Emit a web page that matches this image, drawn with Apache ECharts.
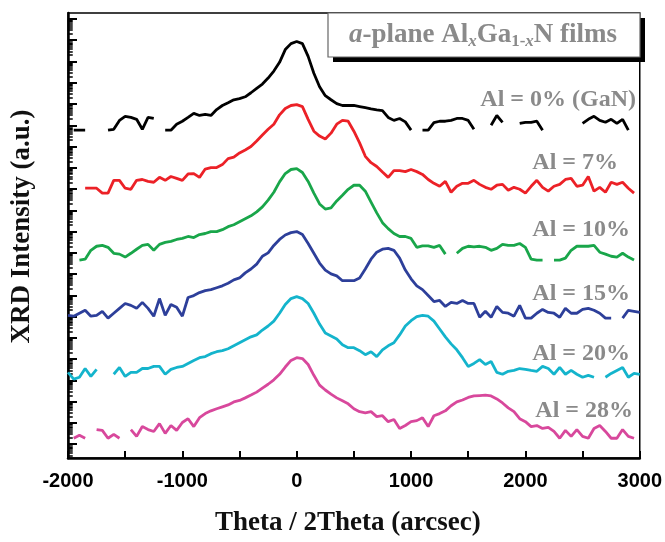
<!DOCTYPE html>
<html>
<head>
<meta charset="utf-8">
<script src="https://cdn.jsdelivr.net/npm/echarts@6/dist/echarts.min.js"></script>
<style>
  html, body { margin: 0; padding: 0; background: #fff; }
  #chart { width: 665px; height: 542px; }
</style>
</head>
<body>
<div id="chart"></div>
<script>
// theta/2theta scan, one sample every 50 arcsec
const theta = [];
for (let t = -2000; t <= 3000; t += 50) theta.push(t);

// log10 intensity (a.u.), curves stacked as in the figure; null = zero counts
const al0 = [
  null, 14.77, 14.77, 14.77, null, null, null, 14.77, 14.81, 15.23,
  15.42, 15.37, 15.28, 14.81, 15.37, 15.32, null, 14.77, 14.77, 15.05,
  15.19, 15.37, 15.56, 15.46, 15.51, 15.46, 15.74, 15.93, 16.06, 16.20,
  16.25, 16.34, 16.53, 16.74, 16.94, 17.22, 17.55, 17.96, 18.56, 18.84,
  18.94, 18.84, 18.24, 17.45, 16.81, 16.39, 16.20, 16.02, 15.93, 15.93,
  15.93, 15.88, 15.83, 15.77, 15.72, 15.69, 15.37, 15.23, 15.32, 15.16,
  14.77, null, 14.77, 14.77, 15.12, 15.19, 15.19, 15.23, 15.32, 15.32,
  15.23, 14.81, null, null, 15.00, 15.46, 15.14, null, null, 15.09,
  15.14, 15.14, 15.19, 14.77, null, null, null, null, null, null,
  15.09, 15.28, 15.42, 15.23, 15.14, 15.28, 15.09, 15.28, 14.77, null,
  null
];
const al7 = [
  null, null, null, 12.04, 12.04, 12.04, 11.81, 11.81, 12.41, 12.41,
  12.04, 11.99, 12.41, 12.45, 12.36, 12.32, 12.55, 12.41, 12.59, 12.50,
  12.41, 12.71, 12.73, 12.55, 12.94, 13.01, 13.01, 13.15, 13.43, 13.50,
  13.70, 13.84, 14.00, 14.26, 14.54, 14.81, 15.05, 15.49, 15.79, 15.93,
  15.97, 15.88, 15.28, 14.72, 14.49, 14.35, 14.63, 15.05, 15.23, 15.19,
  14.72, 14.17, 13.54, 13.24, 13.06, 12.80, 12.55, 12.87, 12.87, 12.82,
  12.92, 12.82, 12.69, 12.45, 12.27, 12.13, 12.36, 11.85, 12.13, 12.27,
  12.27, 12.41, 12.22, 12.08, 11.99, 12.18, 12.22, 11.94, 12.08, 11.99,
  11.81, 12.13, 12.41, 12.08, 11.90, 12.13, 12.22, 12.45, 12.50, 12.13,
  12.18, 12.59, 11.90, 12.08, 11.85, 12.32, 12.22, 12.32, 12.04, 11.81,
  null
];
const al10 = [
  8.80, null, 8.66, 8.70, 9.12, 9.31, 9.35, 9.26, 8.98, 8.94,
  8.80, 8.98, 9.17, 9.35, 9.40, 9.12, 9.40, 9.49, 9.54, 9.63,
  9.68, 9.77, 9.72, 9.86, 9.91, 10.00, 10.00, 10.09, 10.23, 10.32,
  10.46, 10.60, 10.74, 10.93, 11.16, 11.48, 11.85, 12.34, 12.73, 12.92,
  12.96, 12.78, 12.36, 11.81, 11.30, 11.06, 11.11, 11.44, 11.71, 11.99,
  12.18, 12.18, 11.90, 11.39, 10.88, 10.42, 10.14, 9.91, 9.77, 9.77,
  9.68, 9.26, 9.33, 9.33, 9.26, 9.35, 8.94, null, 8.98, 9.21,
  9.31, 9.28, 9.31, 9.26, 9.12, 9.21, 9.40, 9.35, 9.35, 9.44,
  9.26, 8.70, 8.66, 8.66, null, 8.66, 8.66, 8.75, 9.12, 9.31,
  9.31, 9.31, 9.35, 9.03, 8.94, 8.84, 8.80, 8.98, 8.80, 8.66,
  null
];
const al15 = [
  6.06, 6.02, 6.16, 6.30, 6.02, 6.06, 6.25, 5.93, 6.16, 6.39,
  6.62, 6.53, 6.39, 6.67, 6.39, 6.02, 6.85, 6.06, 6.57, 6.44,
  6.02, 6.90, 6.99, 7.13, 7.22, 7.27, 7.36, 7.45, 7.57, 7.73,
  7.82, 8.06, 8.24, 8.47, 8.84, 9.00, 9.35, 9.63, 9.84, 9.95,
  10.00, 9.86, 9.44, 8.98, 8.52, 8.19, 8.01, 7.92, 7.69, 7.69,
  7.69, 7.82, 8.24, 8.70, 9.03, 9.17, 9.21, 9.12, 8.75, 8.19,
  7.78, 7.45, 7.27, 6.99, 6.71, 6.76, 6.48, 6.67, 6.62, 6.76,
  6.62, 6.62, 5.97, 6.25, 5.97, 6.48, 6.20, 6.16, 6.02, 6.53,
  5.93, 5.93, 6.16, 6.34, 6.20, 6.16, 5.97, 6.39, 6.16, 6.16,
  6.34, 6.39, 6.30, 6.16, 5.93, 5.93, null, 5.93, 6.30, 6.25,
  6.20
];
const al20 = [
  3.38, 3.06, 3.15, 3.56, 3.19, 3.52, null, null, 3.29, 3.61,
  3.19, 3.38, 3.38, 3.56, 3.56, 3.66, 3.66, 3.29, 3.52, 3.61,
  3.66, 3.80, 3.94, 4.07, 4.12, 4.26, 4.35, 4.40, 4.49, 4.63,
  4.77, 4.91, 5.05, 5.14, 5.37, 5.56, 5.79, 6.16, 6.57, 6.85,
  6.94, 6.85, 6.62, 6.16, 5.65, 5.23, 5.09, 4.95, 4.68, 4.54,
  4.54, 4.40, 4.21, 4.35, 4.12, 4.44, 4.63, 4.77, 5.14, 5.56,
  5.81, 6.00, 6.06, 6.02, 5.79, 5.42, 5.05, 4.72, 4.44, 4.07,
  3.66, 3.80, 3.98, 3.75, 3.89, 3.38, 3.29, 3.43, 3.47, 3.56,
  3.52, 3.47, 3.43, 3.66, 3.56, 3.29, 3.61, 3.29, 3.47, 3.29,
  3.15, 3.24, 3.15, null, 3.15, 3.33, 3.47, 3.61, 3.15, 3.33,
  3.29
];
const al28 = [
  null, 0.28, 0.42, 0.28, null, 0.69, 0.65, 0.28, 0.46, 0.28,
  null, 0.69, 0.37, 0.83, 0.69, 0.60, 0.97, 0.51, 0.88, 0.65,
  1.02, 1.20, 0.83, 1.25, 1.44, 1.57, 1.67, 1.76, 1.85, 1.99,
  2.06, 2.18, 2.31, 2.45, 2.64, 2.82, 3.03, 3.29, 3.63, 3.94,
  4.07, 4.03, 3.75, 3.24, 2.78, 2.55, 2.36, 2.18, 2.04, 1.90,
  1.67, 1.53, 1.48, 1.53, 1.30, 1.34, 1.06, 1.16, 0.74, 0.88,
  1.06, 1.11, 1.25, 0.83, 1.34, 1.44, 1.57, 1.81, 1.99, 2.08,
  2.20, 2.27, 2.29, 2.31, 2.27, 2.13, 1.94, 1.71, 1.53, 1.20,
  1.06, 0.83, 0.88, 0.74, 0.79, 0.60, 0.28, 0.65, 0.37, 0.69,
  0.37, 0.28, 0.74, 0.88, 0.60, 0.28, 0.28, 0.69, 0.37, 0.28,
  null
];

const seriesNames = ['Al = 0% (GaN)', 'Al = 7%', 'Al = 10%', 'Al = 15%', 'Al = 20%', 'Al = 28%'];
const curves = [al0, al7, al10, al15, al20, al28];
const colors = ['#000000', '#ec2127', '#19a64a', '#2d3f9a', '#14b4cc', '#d8489c'];

// y axis in decades; decade ticks plus 2..9 minor ticks
const yMin = -0.648, yMax = 20.28;
const majorTicks = [];
for (let n = 0; n <= 20; n++) majorTicks.push(n);
const minorTicks = [];
for (let n = -1; n <= 20; n++) {
  for (let k = 2; k <= 9; k++) {
    const v = n + Math.log10(k);
    if (v > yMin && v < yMax) minorTicks.push(v);
  }
}

const chart = echarts.init(document.getElementById('chart'));

const serif = 'Liberation Serif, Times New Roman, serif';
const grey = '#8a8a8a';
const labelPos = [[636, 100], [618, 163], [630, 230], [630, 294], [630, 354], [633, 411]];

const graphics = [
  { type: 'rect', z: 100, shape: { x: 333, y: 18, width: 312, height: 44 }, style: { fill: '#000' } },
  { type: 'rect', z: 101, shape: { x: 328, y: 13, width: 312, height: 44 }, style: { fill: '#fff', stroke: '#666', lineWidth: 1.2 } },
  {
    type: 'text', z: 102, x: 483, y: 35,
    style: {
      text: '{i|a}{m|-plane Al}{si|x}{m|Ga}{s|1-}{si|x}{m|N films}',
      align: 'center', verticalAlign: 'middle',
      rich: {
        m: { fontFamily: serif, fontWeight: 'bold', fontSize: 27, lineHeight: 30, fill: grey },
        i: { fontFamily: serif, fontWeight: 'bold', fontStyle: 'italic', fontSize: 27, lineHeight: 30, fill: grey },
        s: { fontFamily: serif, fontWeight: 'bold', fontSize: 17, lineHeight: 16, verticalAlign: 'bottom', fill: grey },
        si: { fontFamily: serif, fontWeight: 'bold', fontStyle: 'italic', fontSize: 17, lineHeight: 16, verticalAlign: 'bottom', fill: grey }
      }
    }
  }
];
seriesNames.forEach((name, i) => {
  graphics.push({
    type: 'text', z: 102, x: labelPos[i][0], y: labelPos[i][1],
    style: {
      text: name, align: 'right', verticalAlign: 'middle',
      fontFamily: serif, fontWeight: 'bold', fontSize: 24, fill: grey
    }
  });
});

const option = {
  animation: false,
  grid: { left: 68, right: 25, top: 13, bottom: 77, show: true, borderColor: '#000', borderWidth: 1.5 },
  xAxis: {
    type: 'value',
    min: -2000,
    max: 3000,
    interval: 1000,
    name: 'Theta / 2Theta (arcsec)',
    nameLocation: 'middle',
    nameGap: 52,
    nameTextStyle: { fontFamily: serif, fontWeight: 'bold', fontSize: 27, color: '#111', padding: [0, 12, 0, 0] },
    axisLine: { onZero: false, lineStyle: { color: '#000', width: 2.5 } },
    axisTick: { inside: true, length: 7, lineStyle: { color: '#000', width: 2 } },
    minorTick: { show: true, splitNumber: 2, length: 7, lineStyle: { color: '#000', width: 2 } },
    axisLabel: {
      margin: 13,
      fontFamily: 'Liberation Sans, Arial, sans-serif', fontWeight: 'bold', fontSize: 20, color: '#000',
      formatter: (v) => String(v)
    },
    splitLine: { show: false }
  },
  yAxis: [
    {
      type: 'value',
      min: yMin,
      max: yMax,
      name: 'XRD Intensity (a.u.)',
      nameLocation: 'middle',
      nameGap: 32,
      nameTextStyle: { fontFamily: serif, fontWeight: 'bold', fontSize: 27, color: '#111', padding: [0, 0, 0, 18] },
      axisLine: { show: true, onZero: false, lineStyle: { color: '#000', width: 2.5 } },
      axisTick: { show: true, inside: true, length: 9, customValues: majorTicks, lineStyle: { color: '#000', width: 2 } },
      axisLabel: { show: false },
      splitLine: { show: false }
    },
    {
      type: 'value',
      min: yMin,
      max: yMax,
      position: 'right',
      offset: -572,
      axisLine: { show: false, onZero: false },
      axisTick: { show: true, inside: false, length: 5, customValues: minorTicks, lineStyle: { color: '#000', width: 1.5 } },
      axisLabel: { show: false },
      splitLine: { show: false }
    }
  ],
  series: curves.map((arr, i) => ({
    name: seriesNames[i],
    type: 'line',
    yAxisIndex: 0,
    showSymbol: false,
    connectNulls: false,
    lineStyle: { color: colors[i], width: 2.8 },
    itemStyle: { color: colors[i] },
    data: theta.map((t, j) => [t, arr[j]])
  })),
  graphic: graphics
};

chart.setOption(option);
</script>
</body>
</html>
